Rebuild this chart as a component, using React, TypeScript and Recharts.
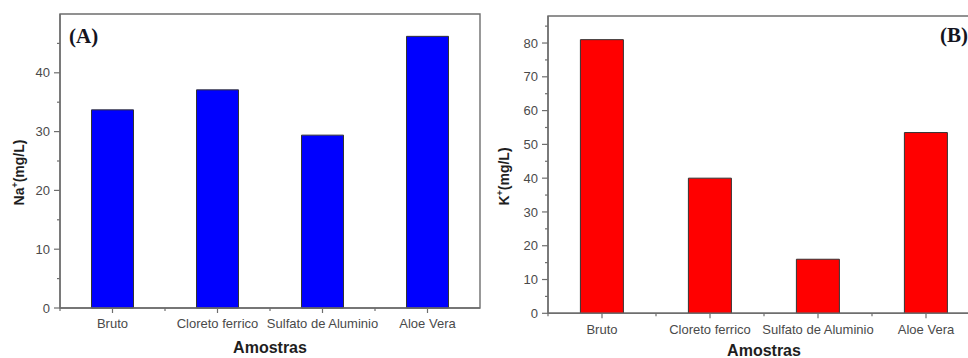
import React from 'react';
import { BarChart, Bar, XAxis, YAxis, ReferenceArea } from 'recharts';

// Samples (treatments) shared by both panels
const categories = ['Bruto', 'Cloreto ferrico', 'Sulfato de Aluminio', 'Aloe Vera'];

// Sodium concentration, mg/L (panel A)
const sodium = [33.7, 37.1, 29.4, 46.2];
// Potassium concentration, mg/L (panel B)
const potassium = [81.0, 40.0, 16.0, 53.5];

const sodiumTicks = [0, 5, 10, 15, 20, 25, 30, 35, 40, 45];
const potassiumTicks = [0, 5, 10, 15, 20, 25, 30, 35, 40, 45, 50, 55, 60, 65, 70, 75, 80, 85];

const sodiumData = categories.map((amostra, i) => ({ amostra, valor: sodium[i] }));
const potassiumData = categories.map((amostra, i) => ({ amostra, valor: potassium[i] }));

const SANS = '"Liberation Sans", Arial, Helvetica, sans-serif';
const SERIF = '"Liberation Serif", "Times New Roman", serif';
const AXIS = '#6e6e6e';
const TICK_TEXT = '#4a4a4a';
const TITLE = '#1e1e1e';

type PanelProps = {
  data: { amostra: string; valor: number }[];
  fill: string;
  domain: [number, number];
  ticks: number[];
  width: number;
  height: number;
  margin: { top: number; right: number; bottom: number; left: number };
  xAxisHeight: number;
  band: number;
  labelDy: number;
  ion: string;
  ionTitle: { cx: number; cy: number };
  xTitleY: number;
  tag: string;
  tagPos: { x: number; y: number };
};

function Panel(p: PanelProps) {
  const YTick = (props: any) => {
    const { x, y, payload } = props;
    const major = payload.value % 10 === 0;
    return (
      <g>
        <line x1={x - (major ? 6 : 3)} x2={x} y1={y} y2={y} stroke={AXIS} strokeWidth={1.2} />
        {major && (
          <text x={x - 10} y={y} dy="0.36em" textAnchor="end" fontSize={13} fontFamily={SANS} fill={TICK_TEXT}>
            {payload.value}
          </text>
        )}
      </g>
    );
  };

  const XTick = (props: any) => {
    const { x, y, payload } = props;
    return (
      <g>
        <line x1={x} x2={x} y1={y} y2={y + 5} stroke={AXIS} strokeWidth={1.2} />
        <line x1={x - p.band / 2} x2={x - p.band / 2} y1={y} y2={y + 3} stroke={AXIS} strokeWidth={1.2} />
        <text x={x} y={y + p.labelDy} textAnchor="middle" fontSize={13} fontFamily={SANS} fill={TICK_TEXT}>
          {payload.value}
        </text>
      </g>
    );
  };

  const yTitle = () => (
    <text
      x={p.ionTitle.cx}
      y={p.ionTitle.cy}
      transform={`rotate(-90 ${p.ionTitle.cx} ${p.ionTitle.cy})`}
      textAnchor="middle"
      dy="0.36em"
      fontSize={14}
      fontWeight="bold"
      fontFamily={SANS}
      fill={TITLE}
    >
      {p.ion}
      <tspan fontSize={9} dy={-6}>+</tspan>
      <tspan dy={6}>(mg/L)</tspan>
    </text>
  );

  const xTitle = (props: any) => {
    const vb = props.viewBox;
    return (
      <text
        x={vb.x + vb.width / 2}
        y={p.xTitleY}
        textAnchor="middle"
        fontSize={16}
        fontWeight="bold"
        fontFamily={SANS}
        fill={TITLE}
      >
        Amostras
      </text>
    );
  };

  const tagLabel = () => (
    <text x={p.tagPos.x} y={p.tagPos.y} fontSize={21} fontWeight="bold" fontFamily={SERIF} fill="#14141e">
      {p.tag}
    </text>
  );

  return (
    <BarChart width={p.width} height={p.height} data={p.data} margin={p.margin} barCategoryGap="30%">
      {/* plot frame (top and right edges) */}
      <ReferenceArea
        y1={p.domain[0]}
        y2={p.domain[1]}
        fill="none"
        fillOpacity={0}
        stroke={AXIS}
        strokeWidth={1.4}
        label={tagLabel}
      />
      <XAxis
        dataKey="amostra"
        type="category"
        height={p.xAxisHeight}
        interval={0}
        tickLine={false}
        tickSize={0}
        tickMargin={0}
        tick={XTick}
        axisLine={{ stroke: AXIS, strokeWidth: 1.4 }}
        label={xTitle}
      />
      <YAxis
        type="number"
        domain={p.domain}
        ticks={p.ticks}
        interval={0}
        width={40}
        tickLine={false}
        tickSize={0}
        tickMargin={0}
        tick={YTick}
        axisLine={{ stroke: AXIS, strokeWidth: 1.4 }}
        label={yTitle}
      />
      <Bar dataKey="valor" fill={p.fill} stroke="#333333" strokeWidth={1} isAnimationActive={false} />
    </BarChart>
  );
}

export default function App() {
  return (
    <div
      style={{
        position: 'absolute',
        left: 0,
        top: 0,
        width: 968,
        height: 358,
        overflow: 'hidden',
        background: '#ffffff',
      }}
    >
      <div style={{ position: 'absolute', left: 0, top: 0 }}>
        <Panel
          data={sodiumData}
          fill="#0000ff"
          domain={[0, 50]}
          ticks={sodiumTicks}
          width={484}
          height={358}
          margin={{ top: 14, right: 4, bottom: 0, left: 20 }}
          xAxisHeight={50}
          band={105}
          labelDy={19.5}
          ion="Na"
          ionTitle={{ cx: 19, cy: 172.5 }}
          xTitleY={353}
          tag="(A)"
          tagPos={{ x: 69, y: 43 }}
        />
      </div>
      <div style={{ position: 'absolute', left: 484, top: 0 }}>
        <Panel
          data={potassiumData}
          fill="#ff0000"
          domain={[0, 88]}
          ticks={potassiumTicks}
          width={500}
          height={358}
          margin={{ top: 16, right: 4, bottom: 0, left: 24 }}
          xAxisHeight={44.7}
          band={108}
          labelDy={20.7}
          ion="K"
          ionTitle={{ cx: 20, cy: 176.5 }}
          xTitleY={356}
          tag="(B)"
          tagPos={{ x: 456, y: 42 }}
        />
      </div>
    </div>
  );
}
